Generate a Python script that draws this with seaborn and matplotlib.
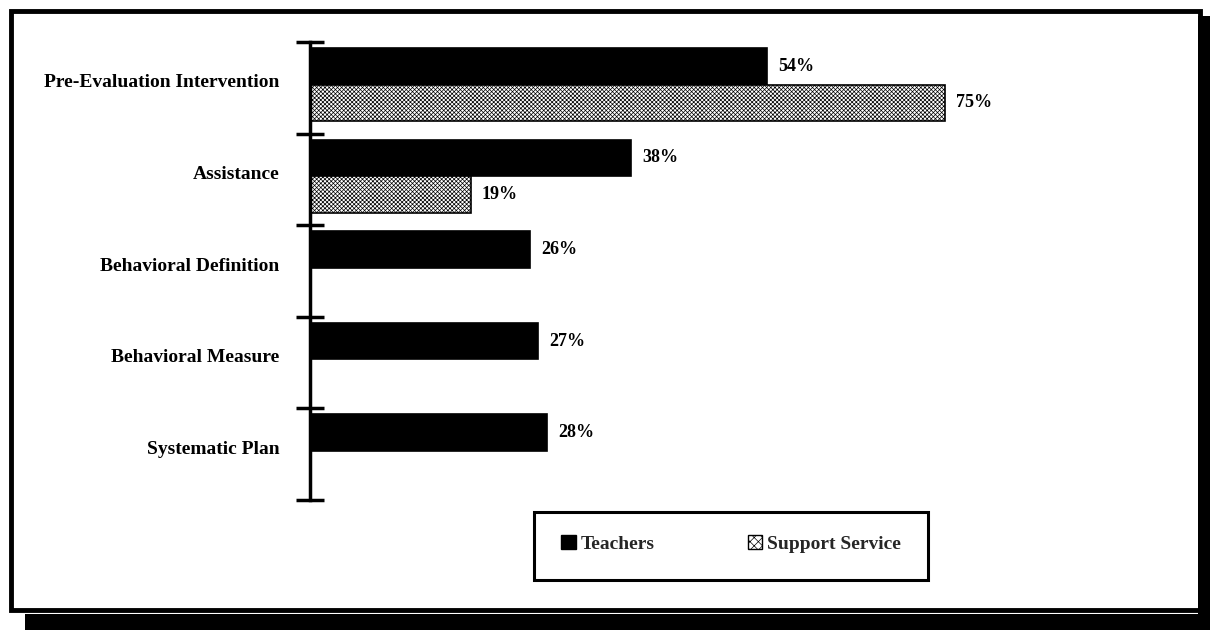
import matplotlib
matplotlib.use("Agg")
import matplotlib.pyplot as plt
from matplotlib.patches import Rectangle, Patch
import numpy as np
import pandas as pd
import seaborn as sns

# Survey responses: share of respondents reporting each practice
categories = [
    "Pre-Evaluation Intervention",
    "Assistance",
    "Behavioral Definition",
    "Behavioral Measure",
    "Systematic Plan",
]
groups = ["Teachers", "Support Service"]
teachers = [54, 38, 26, 27, 28]
support_service = [75, 19, np.nan, np.nan, np.nan]

df = pd.DataFrame({
    "category": categories * 2,
    "group": [groups[0]] * len(categories) + [groups[1]] * len(categories),
    "value": teachers + support_service,
})

sns.set_theme(style="white")
serif = ["Liberation Serif", "DejaVu Serif"]
plt.rcParams["font.family"] = serif
plt.rcParams["hatch.linewidth"] = 0.5
plt.rcParams["hatch.color"] = "black"

W, H = 1210, 630
fig = plt.figure(figsize=(W / 100, H / 100), dpi=100)
fig.patch.set_facecolor("white")

# axes placed in pixel terms: value axis at x=310, category span 42..500 px from top
px_per_pct = 8.46
ax_left, ax_right = 310, 1160
ax_top, ax_bottom = 42, 500
ax = fig.add_axes([ax_left / W, 1 - ax_bottom / H,
                   (ax_right - ax_left) / W, (ax_bottom - ax_top) / H])

sns.barplot(data=df, y="category", x="value", hue="group", order=categories,
            hue_order=groups, orient="h", palette=["black", "white"],
            width=0.8, saturation=1, edgecolor="black", linewidth=1.2,
            legend=False, ax=ax)

# stippled fill for the support-service bars
for bar in ax.containers[1]:
    bar.set_hatch("xxxxxxxx")
    bar.set_facecolor("white")
    bar.set_edgecolor("black")

for cont in ax.containers:
    ax.bar_label(cont, fmt="%d%%", padding=8, fontsize=13,
                 fontweight="bold", color="black")

shift = 0.035
n = len(categories)
ax.set_ylim(n - 0.5 + shift, -0.5 + shift)
ax.set_xlim(0, (ax_right - ax_left) / px_per_pct)

ax.set_yticks([i - 0.04 for i in range(n)])
ax.set_yticklabels(categories, fontsize=14, fontweight="bold")
ax.tick_params(axis="y", which="major", length=0, pad=22, colors="black")
ax.set_yticks([i - 0.5 + shift for i in range(n + 1)], minor=True)
ax.tick_params(axis="y", which="minor", direction="inout", length=20,
               width=2.5, color="black", left=True)
ax.set_xticks([])
ax.set_xlabel("")
ax.set_ylabel("")
for side in ["top", "right", "bottom"]:
    ax.spines[side].set_visible(False)
ax.spines["left"].set_linewidth(2.5)
ax.spines["left"].set_color("black")
ax.set_facecolor("none")

def px_rect(x0, y0, x1, y1, **kw):
    """Rectangle given in pixel coordinates measured from the top-left."""
    return Rectangle((x0 / W, 1 - y1 / H), (x1 - x0) / W, (y1 - y0) / H,
                     transform=fig.transFigure, **kw)

# page frame with drop shadow
fig.patches.append(px_rect(25, 614, 1210, 630, facecolor="black", edgecolor="none"))
fig.patches.append(px_rect(1198, 16, 1210, 630, facecolor="black", edgecolor="none"))
fig.patches.append(px_rect(11, 11, 1200, 610, facecolor="none",
                           edgecolor="black", linewidth=3.5))

# legend box
fig.patches.append(px_rect(534, 512, 928, 580, facecolor="none",
                           edgecolor="black", linewidth=2.2))
handles = [
    Patch(facecolor="black", edgecolor="black", label=groups[0]),
    Patch(facecolor="white", edgecolor="black", hatch="xxxx", label=groups[1]),
]
leg = fig.legend(handles=handles, loc="center",
                 bbox_to_anchor=((534 + 928) / 2 / W, 1 - 544 / H),
                 ncol=2, frameon=False, handlelength=0.75, handleheight=0.75,
                 handletextpad=0.25, columnspacing=4.8,
                 prop={"family": serif, "weight": "bold", "size": 14})

fig.savefig("out.png", dpi=100, facecolor="white")
